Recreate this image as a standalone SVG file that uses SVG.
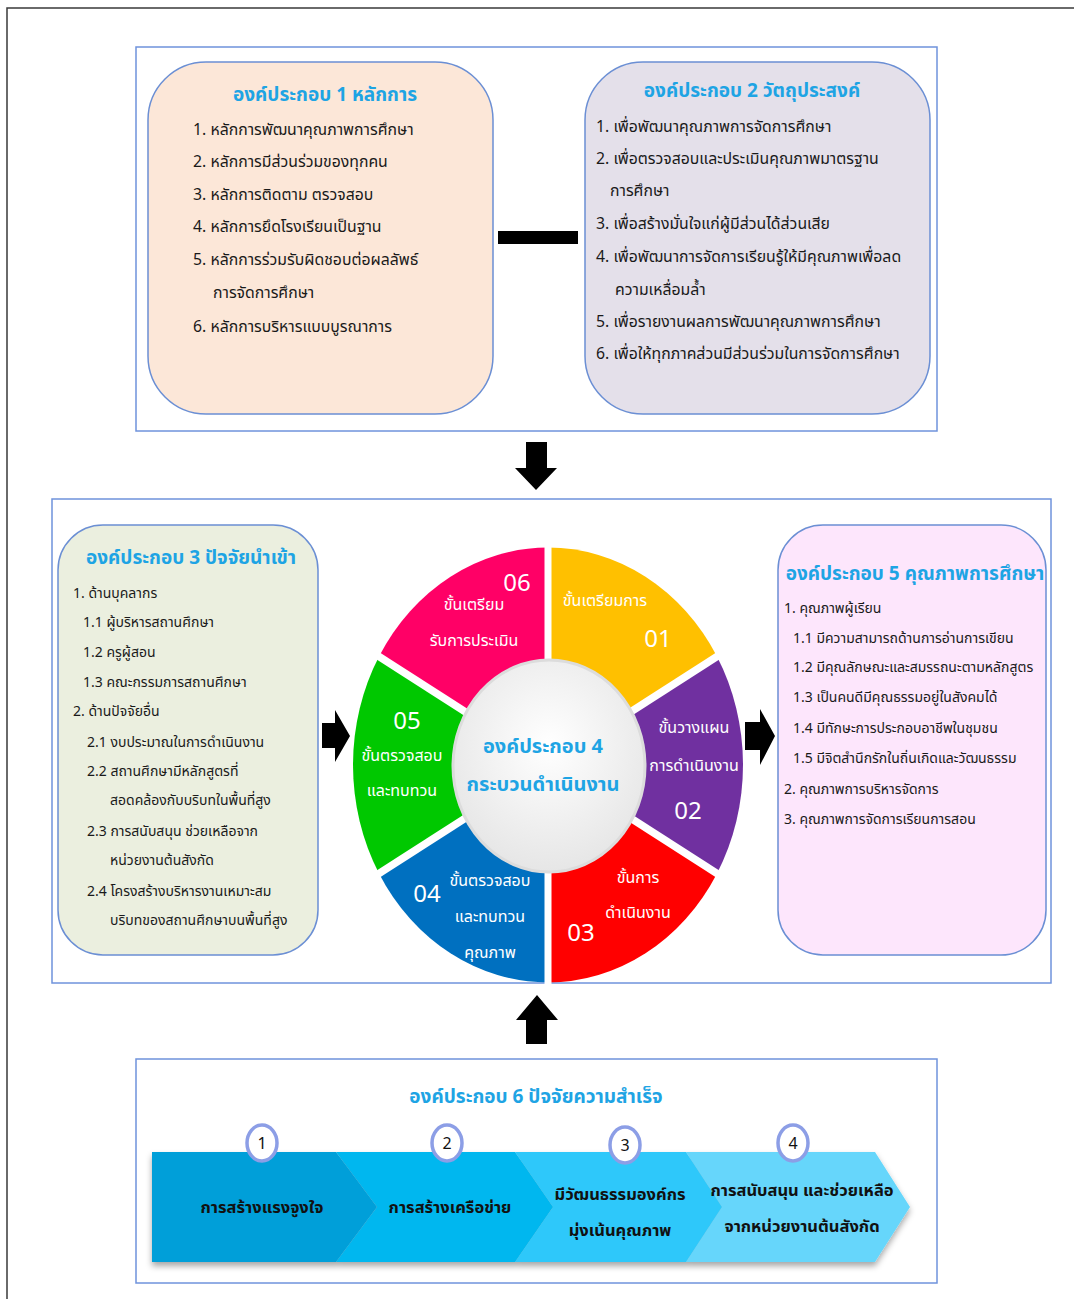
<svg xmlns="http://www.w3.org/2000/svg" width="1074" height="1299" viewBox="0 0 1074 1299">
<style>
text{font-family:"Noto Sans Thai","Noto Sans","DejaVu Sans",sans-serif;}
.ttl{fill:#1ea4e4;font-size:19px;font-weight:bold;text-anchor:middle;}
.it{fill:#1a1a1a;font-size:15.8px;}
.sm{fill:#1a1a1a;font-size:14px;}
.sec{fill:#ffffff;stroke:#6f93dc;stroke-width:1.5;}
.rb{stroke:#6b8fd4;stroke-width:1.5;}
.wt{fill:#ffffff;font-size:16px;text-anchor:middle;}
.wn{fill:#ffffff;font-size:24px;text-anchor:middle;}
.ct{fill:#1ea4e4;font-size:20px;font-weight:bold;text-anchor:middle;}
.cv{fill:#111;font-size:16.5px;font-weight:bold;text-anchor:middle;}
.num{fill:#111;font-size:16px;text-anchor:middle;}
.blk{fill:#000;}
</style>
<defs>
<filter id="sh" x="-10%" y="-10%" width="120%" height="130%">
<feDropShadow dx="0" dy="4" stdDeviation="3" flood-color="#000" flood-opacity="0.35"/>
</filter>
<radialGradient id="cg" cx="0.5" cy="0.4" r="0.6">
<stop offset="0" stop-color="#ffffff"/>
<stop offset="1" stop-color="#e6e6e6"/>
</radialGradient>
</defs>
<rect x="7" y="8" width="1090" height="1310" fill="#ffffff" stroke="#3a3a3a" stroke-width="1.5"/>

<!-- section frames -->
<rect class="sec" x="136" y="47" width="801" height="384"/>
<rect class="sec" x="52" y="499" width="999" height="484"/>
<rect class="sec" x="136" y="1059" width="801" height="224"/>

<g id="c1">
<rect class="rb" x="148" y="62" width="345" height="352" rx="58" fill="#fce7d8"/>
<text class="ttl" x="325" y="101">องค์ประกอบ 1 หลักการ</text>
<text class="it" x="193" y="135">1. หลักการพัฒนาคุณภาพการศึกษา</text>
<text class="it" x="193" y="167">2. หลักการมีส่วนร่วมของทุกคน</text>
<text class="it" x="193" y="200">3. หลักการติดตาม ตรวจสอบ</text>
<text class="it" x="193" y="232">4. หลักการยึดโรงเรียนเป็นฐาน</text>
<text class="it" x="193" y="265">5. หลักการร่วมรับผิดชอบต่อผลลัพธ์</text>
<text class="it" x="213" y="298">การจัดการศึกษา</text>
<text class="it" x="193" y="332">6. หลักการบริหารแบบบูรณาการ</text>
</g>

<g id="c2">
<rect class="rb" x="585" y="62" width="345" height="352" rx="58" fill="#e4e0ea"/>
<text class="ttl" x="752" y="97">องค์ประกอบ 2 วัตถุประสงค์</text>
<text class="it" x="596" y="132">1. เพื่อพัฒนาคุณภาพการจัดการศึกษา</text>
<text class="it" x="596" y="164">2. เพื่อตรวจสอบและประเมินคุณภาพมาตรฐาน</text>
<text class="it" x="610" y="196">การศึกษา</text>
<text class="it" x="596" y="229">3. เพื่อสร้างมั่นใจแก่ผู้มีส่วนได้ส่วนเสีย</text>
<text class="it" x="596" y="262">4. เพื่อพัฒนาการจัดการเรียนรู้ให้มีคุณภาพเพื่อลด</text>
<text class="it" x="615" y="295">ความเหลื่อมล้ำ</text>
<text class="it" x="596" y="327">5. เพื่อรายงานผลการพัฒนาคุณภาพการศึกษา</text>
<text class="it" x="596" y="359">6. เพื่อให้ทุกภาคส่วนมีส่วนร่วมในการจัดการศึกษา</text>
</g>

<g id="c3">
<rect class="rb" x="58" y="525" width="260" height="430" rx="45" fill="#ebefdf"/>
<text class="ttl" x="191" y="564">องค์ประกอบ 3 ปัจจัยนำเข้า</text>
<text class="sm" x="73" y="598">1. ด้านบุคลากร</text>
<text class="sm" x="83" y="627">1.1 ผู้บริหารสถานศึกษา</text>
<text class="sm" x="83" y="657">1.2 ครูผู้สอน</text>
<text class="sm" x="83" y="687">1.3 คณะกรรมการสถานศึกษา</text>
<text class="sm" x="73" y="716">2. ด้านปัจจัยอื่น</text>
<text class="sm" x="87" y="747">2.1 งบประมาณในการดำเนินงาน</text>
<text class="sm" x="87" y="776">2.2 สถานศึกษามีหลักสูตรที่</text>
<text class="sm" x="110" y="805">สอดคล้องกับบริบทในพื้นที่สูง</text>
<text class="sm" x="87" y="836">2.3 การสนับสนุน ช่วยเหลือจาก</text>
<text class="sm" x="110" y="865">หน่วยงานต้นสังกัด</text>
<text class="sm" x="87" y="896">2.4 โครงสร้างบริหารงานเหมาะสม</text>
<text class="sm" x="110" y="925">บริบทของสถานศึกษาบนพื้นที่สูง</text>
</g>

<g id="c4">
<g transform="translate(548,765) scale(1,1.115)">
<path d="M0,0 L0,-195 A195,195 0 0 1 168.87,-97.5 Z" fill="#ffc000"/>
<path d="M0,0 L168.87,-97.5 A195,195 0 0 1 168.87,97.5 Z" fill="#7030a0"/>
<path d="M0,0 L168.87,97.5 A195,195 0 0 1 0,195 Z" fill="#ff0000"/>
<path d="M0,0 L0,195 A195,195 0 0 1 -168.87,97.5 Z" fill="#0070c0"/>
<path d="M0,0 L-168.87,97.5 A195,195 0 0 1 -168.87,-97.5 Z" fill="#00c800"/>
<path d="M0,0 L-168.87,-97.5 A195,195 0 0 1 0,-195 Z" fill="#ff0066"/>
<g stroke="#ffffff" stroke-width="7">
<line x1="0" y1="0" x2="0" y2="-205"/>
<line x1="0" y1="0" x2="177" y2="-102"/>
<line x1="0" y1="0" x2="177" y2="102"/>
<line x1="0" y1="0" x2="0" y2="205"/>
<line x1="0" y1="0" x2="-177" y2="102"/>
<line x1="0" y1="0" x2="-177" y2="-102"/>
</g>
</g>
<ellipse cx="549" cy="766" rx="96" ry="106" fill="url(#cg)" stroke="#dcdcdc" stroke-width="3"/>
<text class="ct" x="543" y="753">องค์ประกอบ 4</text>
<text class="ct" x="543" y="791">กระบวนดำเนินงาน</text>
<text class="wn" x="517" y="591">06</text>
<text class="wt" x="474" y="610">ขั้นเตรียม</text>
<text class="wt" x="474" y="646">รับการประเมิน</text>
<text class="wt" x="605" y="606">ขั้นเตรียมการ</text>
<text class="wn" x="658" y="647">01</text>
<text class="wt" x="694" y="733">ขั้นวางแผน</text>
<text class="wt" x="694" y="771">การดำเนินงาน</text>
<text class="wn" x="688" y="819">02</text>
<text class="wt" x="638" y="883">ขั้นการ</text>
<text class="wt" x="638" y="918">ดำเนินงาน</text>
<text class="wn" x="581" y="941">03</text>
<text class="wt" x="490" y="886">ขั้นตรวจสอบ</text>
<text class="wn" x="427" y="902">04</text>
<text class="wt" x="490" y="922">และทบทวน</text>
<text class="wt" x="490" y="958">คุณภาพ</text>
<text class="wn" x="407" y="729">05</text>
<text class="wt" x="402" y="761">ขั้นตรวจสอบ</text>
<text class="wt" x="402" y="796">และทบทวน</text>
</g>

<g id="c5">
<rect class="rb" x="778" y="525" width="268" height="430" rx="45" fill="#fde6fc"/>
<text class="ttl" x="915" y="580">องค์ประกอบ 5 คุณภาพการศึกษา</text>
<text class="sm" x="784" y="613">1. คุณภาพผู้เรียน</text>
<text class="sm" x="793" y="643">1.1 มีความสามารถด้านการอ่านการเขียน</text>
<text class="sm" x="793" y="672">1.2 มีคุณลักษณะและสมรรถนะตามหลักสูตร</text>
<text class="sm" x="793" y="702">1.3 เป็นคนดีมีคุณธรรมอยู่ในสังคมได้</text>
<text class="sm" x="793" y="733">1.4 มีทักษะการประกอบอาชีพในชุมชน</text>
<text class="sm" x="793" y="763">1.5 มีจิตสำนึกรักในถิ่นเกิดและวัฒนธรรม</text>
<text class="sm" x="784" y="794">2. คุณภาพการบริหารจัดการ</text>
<text class="sm" x="784" y="824">3. คุณภาพการจัดการเรียนการสอน</text>
</g>

<g id="c6">
<text class="ttl" x="536" y="1103">องค์ประกอบ 6 ปัจจัยความสำเร็จ</text>
<g filter="url(#sh)">
<path d="M686,1152 L875,1152 L910,1207 L875,1262 L686,1262 L722,1207 Z" fill="#66d6fb"/>
<path d="M515,1152 L686,1152 L722,1207 L686,1262 L515,1262 L553,1207 Z" fill="#2fc8fa"/>
<path d="M336,1152 L515,1152 L553,1207 L515,1262 L336,1262 L377,1207 Z" fill="#00b7ef"/>
<path d="M152,1152 L336,1152 L377,1207 L336,1262 L152,1262 Z" fill="#009fd9"/>
</g>
<g fill="#ffffff" stroke="#8c9ee6" stroke-width="3.5">
<ellipse cx="262" cy="1143" rx="15" ry="18"/>
<ellipse cx="447" cy="1143" rx="15" ry="18"/>
<ellipse cx="625" cy="1145" rx="15" ry="18"/>
<ellipse cx="793" cy="1143" rx="15" ry="18"/>
</g>
<text class="num" x="262" y="1149">1</text>
<text class="num" x="447" y="1149">2</text>
<text class="num" x="625" y="1151">3</text>
<text class="num" x="793" y="1149">4</text>
<text class="cv" x="262" y="1213">การสร้างแรงจูงใจ</text>
<text class="cv" x="450" y="1213">การสร้างเครือข่าย</text>
<text class="cv" x="620" y="1200">มีวัฒนธรรมองค์กร</text>
<text class="cv" x="620" y="1236">มุ่งเน้นคุณภาพ</text>
<text class="cv" x="802" y="1196">การสนับสนุน และช่วยเหลือ</text>
<text class="cv" x="802" y="1232">จากหน่วยงานต้นสังกัด</text>
</g>

<g id="connectors">
<rect class="blk" x="498" y="231" width="80" height="13"/>
<path class="blk" d="M526,442 L547,442 L547,468 L557,468 L536,490 L515,468 L526,468 Z"/>
<path class="blk" d="M322,723 L335,723 L335,710 L350,736 L335,762 L335,748 L322,748 Z"/>
<path class="blk" d="M745,722 L760,722 L760,709 L775,736 L760,765 L760,750 L745,750 Z"/>
<path class="blk" d="M526,1044 L547,1044 L547,1020 L558,1020 L537,995 L516,1020 L526,1020 Z"/>
</g>
</svg>
